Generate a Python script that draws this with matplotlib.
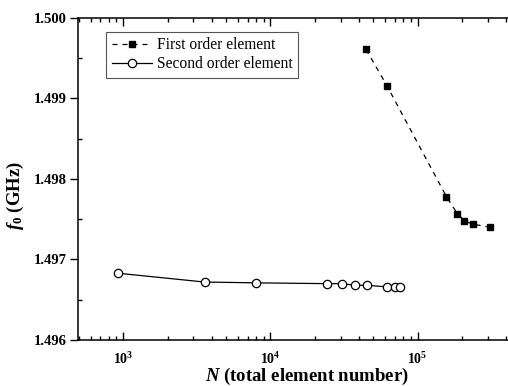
import numpy as np
import matplotlib
matplotlib.use('Agg')
import matplotlib.pyplot as plt
from matplotlib.ticker import FixedLocator, FixedFormatter, LogLocator, NullFormatter

plt.rcParams['font.family'] = 'Liberation Serif'
plt.rcParams['mathtext.fontset'] = 'custom'
plt.rcParams['mathtext.rm'] = 'Liberation Serif:bold'
plt.rcParams['mathtext.bf'] = 'Liberation Serif:bold'
plt.rcParams['mathtext.it'] = 'Liberation Serif:italic:bold'

# first order element
n_first = [44600, 61800, 157000, 186000, 208000, 236000, 311000]
f_first = [1.49961, 1.49916, 1.49778, 1.49757, 1.49748, 1.49744, 1.49740]

# second order element
n_second = [916, 3570, 8000, 24300, 30600, 37500, 45200, 61800, 70000, 75500]
f_second = [1.49683, 1.49672, 1.49671, 1.49670, 1.49670, 1.49668, 1.49668,
            1.49666, 1.49666, 1.49666]

y_ticks = [1.496, 1.497, 1.498, 1.499, 1.500]
y_labels = ['1.496', '1.497', '1.498', '1.499', '1.500']
x_ticks = [1e3, 1e4, 1e5]
x_labels = [r'$10^{3}$', r'$10^{4}$', r'$10^{5}$']

fig = plt.figure(figsize=(5.08, 3.86), dpi=100)
ax = fig.add_axes([78/508, 46/386, 432/508, 322/386])

ax.plot(n_first, f_first, ls='--', color='black', lw=0.9, marker='s',
        ms=5, mfc='black', mec='black', dashes=(4, 4),
        label='First order element')
ax.plot(n_second, f_second, ls='-', color='black', lw=0.9, marker='o',
        ms=6, mfc='white', mec='black', mew=0.9,
        label='Second order element')

ax.set_xscale('log')
ax.set_xlim(493, 424000)
ax.set_ylim(1.496, 1.500)

ax.xaxis.set_major_locator(FixedLocator(x_ticks))
ax.xaxis.set_major_formatter(FixedFormatter(x_labels))
ax.xaxis.set_minor_locator(LogLocator(base=10, subs=np.arange(2, 10)))
ax.xaxis.set_minor_formatter(NullFormatter())
ax.yaxis.set_major_locator(FixedLocator(y_ticks))
ax.yaxis.set_major_formatter(FixedFormatter(y_labels))
ax.yaxis.set_minor_locator(FixedLocator([1.4965, 1.4975, 1.4985, 1.4995]))

ax.spines['right'].set_visible(False)
for s in ['left', 'top', 'bottom']:
    ax.spines[s].set_linewidth(1.1)

ax.tick_params(axis='x', which='both', direction='in', top=True, width=1)
ax.tick_params(axis='x', which='major', length=6, labelsize=10, pad=8)
ax.tick_params(axis='x', which='minor', length=3)
ax.tick_params(axis='y', which='major', direction='out', length=6, width=1,
               labelsize=10.5, pad=2)
ax.tick_params(axis='y', which='minor', direction='in', length=3, width=1)
for lab in ax.get_yticklabels():
    lab.set_fontweight('bold')

ax.set_xlabel(r'$N$ (total element number)', fontsize=13.5, fontweight='bold')
ax.xaxis.set_label_coords(0.53, -0.08)
ax.set_ylabel(r'$f_0$ (GHz)', fontsize=13.5, fontweight='bold')
ax.yaxis.set_label_coords(-0.12, 0.45)

leg = ax.legend(loc='upper left', bbox_to_anchor=(0.065, 0.957),
                borderaxespad=0, fancybox=False, fontsize=11.2,
                handlelength=2.6, handletextpad=0.3, borderpad=0.35,
                labelspacing=0.2, framealpha=1)
leg.get_frame().set_edgecolor('#555555')
leg.get_frame().set_linewidth(0.8)

fig.savefig('out.png', dpi=100)
